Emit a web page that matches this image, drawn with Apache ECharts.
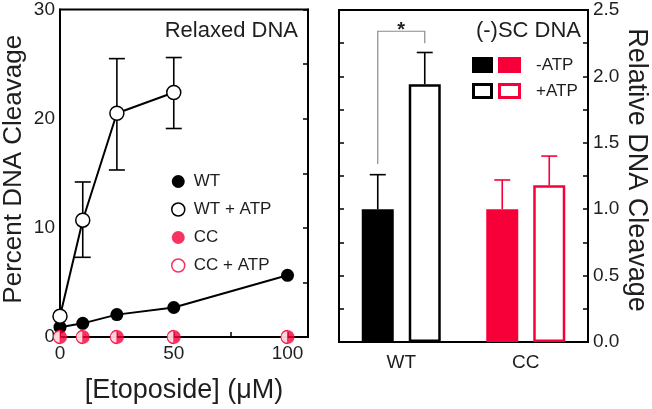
<!DOCTYPE html>
<html><head><meta charset="utf-8">
<script src="https://cdn.jsdelivr.net/npm/echarts@6/dist/echarts.min.js"></script>
<style>html,body{margin:0;padding:0;background:#fff}#c{width:652px;height:409px}</style>
</head><body><div id="c"></div>
<script>
// ---- Left panel: Relaxed DNA ----
const etoposide = [0, 10, 25, 50, 100];
const wt = [0.9, 1.25, 2.05, 2.7, 5.65];
const wtAtpX = [0, 10, 25, 50];
const wtAtp = [1.9, 10.7, 20.5, 22.4];
const wtAtpErrLow = [null, 7.3, 15.3, 19.1];
const wtAtpErrHigh = [null, 14.2, 25.5, 25.6];
const cc = [0, 0, 0, 0, 0];
const ccAtp = [0, 0, 0, 0, 0];
const leftNames = ['WT', 'WT + ATP', 'CC', 'CC + ATP'];

// ---- Right panel: (-)SC DNA ----
const strains = ['WT', 'CC'];
const noAtp = [1.0, 1.0];
const noAtpErrHigh = [1.26, 1.22];
const plusAtp = [1.94, 1.18];
const plusAtpErrHigh = [2.18, 1.40];
const sigBracket = [0, 1.34, 2.34, 2.25]; // category, left end, top, right end

const RED = '#f7003a';
const TXT = '#1e1e1e';
const FONT = '"Liberation Sans", Arial, sans-serif';
const BAR_W = 32, BAR_GAP = 15;
const HALF = (BAR_W + BAR_GAP) / 2;
const strainColor = [ '#000', RED ];

const chart = echarts.init(document.getElementById('c'));

function pts(xs, ys) { return xs.map((x, i) => [x, ys[i]]); }

const leftErr = wtAtpX.map((x, i) => [x, wtAtpErrLow[i], wtAtpErrHigh[i]]).filter(d => d[1] != null);
const rightErr = [];
strains.forEach((s, i) => {
  rightErr.push([i, noAtp[i], noAtpErrHigh[i], -1]);
  rightErr.push([i, plusAtp[i], plusAtpErrHigh[i], 1]);
});

chart.setOption({
  animation: false,
  textStyle: { fontFamily: FONT },
  grid: [
    { left: 58, top: 8, width: 250, height: 334, show: true, borderColor: '#000', borderWidth: 2, backgroundColor: 'transparent' },
    { left: 339, top: 10, width: 249, height: 332, show: true, borderColor: '#000', borderWidth: 2, backgroundColor: 'transparent' }
  ],
  xAxis: [
    { type: 'value', gridIndex: 0, min: 0, max: 109, interval: 25,
      axisLine: { show: true, lineStyle: { color: '#000', width: 2 } },
      axisTick: { show: true, inside: true, length: 5, lineStyle: { color: '#000', width: 1.5 } },
      axisLabel: { fontSize: 19, color: TXT, margin: 7, showMaxLabel: false,
        formatter: v => (v % 50 === 0 ? String(v) : '') },
      splitLine: { show: false },
      name: '[Etoposide] (μM)', nameLocation: 'middle', nameGap: 40,
      nameTextStyle: { fontSize: 27, color: TXT } },
    { type: 'category', gridIndex: 1, data: strains,
      axisLine: { show: true, lineStyle: { color: '#000', width: 2 } },
      axisTick: { show: false },
      axisLabel: { fontSize: 19, color: TXT, margin: 11 } }
  ],
  yAxis: [
    { type: 'value', gridIndex: 0, min: 0, max: 30, interval: 10,
      axisLine: { show: true, lineStyle: { color: '#000', width: 2 } },
      axisTick: { show: false },
      axisLabel: { fontSize: 19, color: TXT, margin: 5 },
      splitLine: { show: false },
      name: 'Percent DNA Cleavage', nameLocation: 'middle', nameGap: 33,
      nameTextStyle: { fontSize: 26, color: TXT, padding: [0, 0, 0, 8] } },
    { type: 'value', gridIndex: 0, position: 'right', min: 0, max: 30, interval: 5,
      axisLine: { show: true, lineStyle: { color: '#000', width: 2 } },
      axisTick: { show: true, inside: true, length: 5, lineStyle: { color: '#000', width: 1.5 } },
      axisLabel: { show: false }, splitLine: { show: false } },
    { type: 'value', gridIndex: 1, position: 'right', min: 0, max: 2.5, interval: 0.5,
      axisLine: { show: true, lineStyle: { color: '#000', width: 2 } },
      axisTick: { show: true, inside: true, length: 5, lineStyle: { color: '#000', width: 1.5 } },
      minorTick: { show: true, splitNumber: 2, length: 5, lineStyle: { color: '#000', width: 1.5 } },
      axisLabel: { fontSize: 19, color: TXT, margin: 5, formatter: v => v.toFixed(1) },
      splitLine: { show: false },
      name: 'Relative DNA Cleavage', nameLocation: 'middle', nameGap: 35, nameRotate: -90,
      nameTextStyle: { fontSize: 27, color: TXT, padding: [0, 12, 0, 0] } },
    { type: 'value', gridIndex: 1, position: 'left', min: 0, max: 2.5, interval: 0.25,
      axisLine: { show: true, lineStyle: { color: '#000', width: 2 } },
      axisTick: { show: true, inside: true, length: 5, lineStyle: { color: '#000', width: 1.5 } },
      axisLabel: { show: false }, splitLine: { show: false } }
  ],
  legend: {
    orient: 'vertical', left: 166, top: 168, itemWidth: 13, itemHeight: 13, itemGap: 11,
    textStyle: { fontSize: 17, color: TXT, padding: [0, 0, 0, 4] },
    data: [
      { name: 'WT', icon: 'circle', itemStyle: { color: '#000', borderWidth: 0 } },
      { name: 'WT + ATP', icon: 'circle', itemStyle: { color: '#fff', borderColor: '#000', borderWidth: 1.5 } },
      { name: 'CC', icon: 'circle', itemStyle: { color: RED, borderWidth: 0 } },
      { name: 'CC + ATP', icon: 'circle', itemStyle: { color: '#fff', borderColor: RED, borderWidth: 1.5 } }
    ]
  },
  graphic: [
    { type: 'text', right: 652 - 298, top: 20, style: { text: 'Relaxed DNA', fontSize: 22, fill: TXT, fontFamily: FONT } },
    { type: 'text', right: 652 - 581, top: 20, style: { text: '(-)SC DNA', fontSize: 22, fill: TXT, fontFamily: FONT } },
    { type: 'rect', shape: { x: 472, y: 57, width: 21, height: 16 }, style: { fill: '#000' } },
    { type: 'rect', shape: { x: 498, y: 57, width: 23, height: 16 }, style: { fill: RED } },
    { type: 'text', x: 536, y: 65, style: { text: '-ATP', fontSize: 17, fill: TXT, fontFamily: FONT, verticalAlign: 'middle' } },
    { type: 'rect', shape: { x: 473.5, y: 84.5, width: 18, height: 13 }, style: { fill: '#fff', stroke: '#000', lineWidth: 3 } },
    { type: 'rect', shape: { x: 499.5, y: 84.5, width: 20, height: 13 }, style: { fill: '#fff', stroke: RED, lineWidth: 3 } },
    { type: 'text', x: 536, y: 91, style: { text: '+ATP', fontSize: 17, fill: TXT, fontFamily: FONT, verticalAlign: 'middle' } }
  ],
  series: [
    { type: 'custom', xAxisIndex: 0, yAxisIndex: 0, z: 1, data: leftErr,
      renderItem: (params, api) => {
        const lo = api.coord([api.value(0), api.value(1)]);
        const hi = api.coord([api.value(0), api.value(2)]);
        const w = 8, st = { stroke: '#000', lineWidth: 1.6 };
        return { type: 'group', children: [
          { type: 'line', shape: { x1: lo[0], y1: lo[1], x2: hi[0], y2: hi[1] }, style: st },
          { type: 'line', shape: { x1: lo[0] - w, y1: lo[1], x2: lo[0] + w, y2: lo[1] }, style: st },
          { type: 'line', shape: { x1: hi[0] - w, y1: hi[1], x2: hi[0] + w, y2: hi[1] }, style: st }
        ]};
      } },
    { name: 'WT', type: 'line', xAxisIndex: 0, yAxisIndex: 0, z: 3, data: pts(etoposide, wt),
      symbol: 'circle', symbolSize: 13, itemStyle: { color: '#000' }, lineStyle: { color: '#000', width: 2 } },
    { name: 'WT + ATP', type: 'line', xAxisIndex: 0, yAxisIndex: 0, z: 3, data: pts(wtAtpX, wtAtp),
      symbol: 'circle', symbolSize: 14, itemStyle: { color: '#fff', borderColor: '#000', borderWidth: 1.5 },
      lineStyle: { color: '#000', width: 2 } },
    { name: 'CC', type: 'scatter', xAxisIndex: 0, yAxisIndex: 0, z: 4, data: pts(etoposide, cc),
      symbol: 'circle', symbolSize: 14, itemStyle: { color: RED } },
    { name: 'CC + ATP', type: 'scatter', xAxisIndex: 0, yAxisIndex: 0, z: 5, data: pts(etoposide, ccAtp),
      symbol: 'path://M10,0 A10,10 0 0 0 10,20 Z', symbolSize: [6.5, 13], symbolOffset: [-3.25, 0],
      itemStyle: { color: '#fff', borderColor: RED, borderWidth: 1 } },
    { name: '-ATP', type: 'bar', xAxisIndex: 1, yAxisIndex: 2, barWidth: BAR_W, barGap: (BAR_GAP / BAR_W * 100) + '%', z: 2,
      data: noAtp.map((v, i) => ({ value: v, itemStyle: { color: strainColor[i] } })) },
    { name: '+ATP', type: 'bar', xAxisIndex: 1, yAxisIndex: 2, barWidth: BAR_W, z: 2,
      data: plusAtp.map((v, i) => ({ value: v, itemStyle: { color: '#fff', borderColor: strainColor[i], borderWidth: 2.5 } })) },
    { type: 'custom', xAxisIndex: 1, yAxisIndex: 2, z: 3, data: rightErr,
      renderItem: (params, api) => {
        const c = api.value(0);
        const b = api.coord([c, api.value(1)]);
        const h = api.coord([c, api.value(2)]);
        const x = b[0] + api.value(3) * HALF;
        const w = 8, st = { stroke: strainColor[c], lineWidth: 1.6 };
        return { type: 'group', children: [
          { type: 'line', shape: { x1: x, y1: b[1], x2: x, y2: h[1] }, style: st },
          { type: 'line', shape: { x1: x - w, y1: h[1], x2: x + w, y2: h[1] }, style: st }
        ]};
      } },
    { type: 'custom', xAxisIndex: 1, yAxisIndex: 2, z: 3, data: [sigBracket],
      renderItem: (params, api) => {
        const c = api.value(0);
        const a = api.coord([c, api.value(1)]);
        const t = api.coord([c, api.value(2)]);
        const e = api.coord([c, api.value(3)]);
        const xl = a[0] - HALF, xr = a[0] + HALF;
        const st = { stroke: '#8a8a8a', lineWidth: 1.2 };
        return { type: 'group', children: [
          { type: 'polyline', shape: { points: [[xl, a[1]], [xl, t[1]], [xr, t[1]], [xr, e[1]]] }, style: Object.assign({ fill: 'none' }, st) },
          { type: 'text', style: { text: '*', x: (xl + xr) / 2, y: t[1] - 1, fontSize: 20, fontWeight: 'bold', fill: TXT, align: 'center', verticalAlign: 'middle', fontFamily: FONT } }
        ]};
      } }
  ]
});
</script></body></html>
